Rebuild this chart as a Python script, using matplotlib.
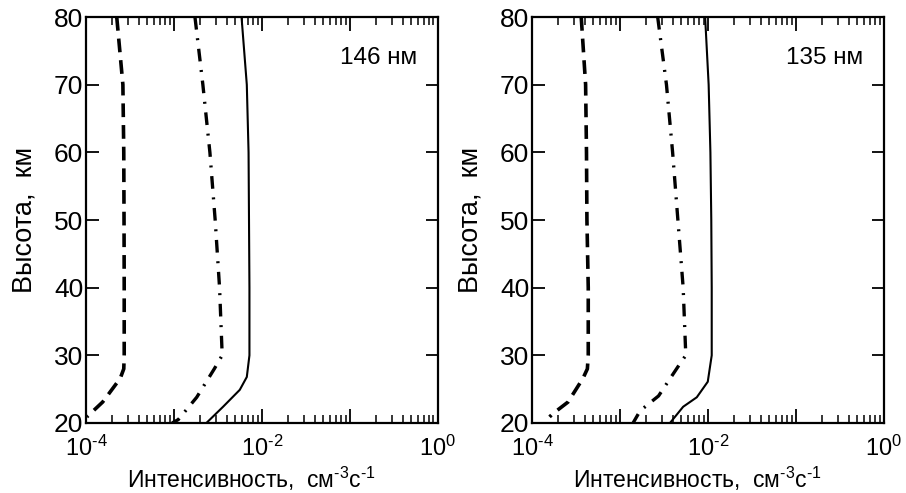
import numpy as np
import matplotlib
matplotlib.use("Agg")
import matplotlib.pyplot as plt
from matplotlib.ticker import LogLocator, FixedLocator, FixedFormatter, NullFormatter

plt.rcParams['font.family'] = ['Liberation Sans', 'DejaVu Sans']
plt.rcParams['mathtext.fontset'] = 'custom'
plt.rcParams['mathtext.rm'] = 'Liberation Sans'
plt.rcParams['mathtext.it'] = 'Liberation Sans'
plt.rcParams['mathtext.bf'] = 'Liberation Sans'

# heights (km) and log10 intensities
h_dash_146 = [80, 70, 60, 50, 40, 30, 28, 26.6, 23.1, 20.9]
lg_dash_146 = [-3.65, -3.58, -3.57, -3.567, -3.565, -3.565, -3.57, -3.61, -3.81, -3.99]
h_dd_146 = [80, 70, 60, 50, 40, 30, 28, 23.8, 20.5, 20]
lg_dd_146 = [-2.76, -2.67, -2.59, -2.53, -2.48, -2.45, -2.54, -2.74, -2.95, -3.02]
h_sol_146 = [80, 70, 60, 50, 40, 30, 26.8, 24.9, 22.4, 20]
lg_sol_146 = [-2.23, -2.17, -2.15, -2.145, -2.14, -2.14, -2.17, -2.25, -2.44, -2.63]

h_dash_135 = [80, 70, 60, 50, 40, 30, 28, 26.6, 23.1, 21.3, 20.9]
lg_dash_135 = [-3.44, -3.39, -3.38, -3.375, -3.36, -3.36, -3.37, -3.42, -3.59, -3.77, -3.80]
h_dd_135 = [80, 70, 60, 50, 40, 30, 28.3, 24, 21.8, 20]
lg_dd_135 = [-2.57, -2.47, -2.40, -2.34, -2.28, -2.25, -2.34, -2.56, -2.77, -2.85]
h_sol_135 = [80, 70, 60, 50, 40, 30, 26.1, 23.8, 22.4, 20]
lg_sol_135 = [-2.03, -1.99, -1.97, -1.96, -1.955, -1.955, -2.0, -2.125, -2.28, -2.43]

panels = [
    ("146 нм", (h_dash_146, lg_dash_146), (h_dd_146, lg_dd_146), (h_sol_146, lg_sol_146)),
    ("135 нм", (h_dash_135, lg_dash_135), (h_dd_135, lg_dd_135), (h_sol_135, lg_sol_135)),
]

xtick_vals = [1e-4, 1e-3, 1e-2, 1e-1, 1e0]
xtick_labels = [r"10$^{\text{-4}}$", "", r"10$^{\text{-2}}$", "", r"10$^{\text{0}}$"]
yticks = [20, 30, 40, 50, 60, 70, 80]

fig = plt.figure(figsize=(9.06, 4.93), dpi=100)
lefts = [0.0949, 0.5872]

for left, (label, dash, dd, sol) in zip(lefts, panels):
    ax = fig.add_axes([left, 0.142, 0.3880, 0.8235])
    ax.plot(10 ** np.array(dash[1]), dash[0], color='black', lw=2.6, linestyle=(0, (3.8, 2.2)))
    ax.plot(10 ** np.array(dd[1]), dd[0], color='black', lw=2.4, linestyle=(0, (3.8, 2.6, 0.6, 2.6)))
    ax.plot(10 ** np.array(sol[1]), sol[0], color='black', lw=1.5)

    ax.set_xscale('log')
    ax.set_xlim(1e-4, 1e0)
    ax.set_ylim(20, 80)
    ax.xaxis.set_major_locator(FixedLocator(xtick_vals))
    ax.xaxis.set_major_formatter(FixedFormatter(xtick_labels))
    ax.xaxis.set_minor_locator(LogLocator(base=10, subs=np.arange(2, 10), numticks=20))
    ax.xaxis.set_minor_formatter(NullFormatter())
    ax.set_yticks(yticks)

    ax.tick_params(axis='x', which='major', direction='in', length=10, width=1.3,
                   top=True, labelsize=17, pad=9)
    ax.tick_params(axis='x', which='minor', direction='in', length=6, width=1.1, top=True)
    ax.tick_params(axis='y', which='major', direction='in', length=9, width=1.3,
                   right=True, labelsize=19, pad=2)
    for s in ax.spines.values():
        s.set_linewidth(1.6)

    ax.set_xlabel(r"Интенсивность,  см$^{\text{-3}}$с$^{\text{-1}}$", fontsize=16.5, labelpad=3)
    ax.xaxis.label.set_x(0.47)
    ax.set_ylabel("Высота,  км", fontsize=19.5, labelpad=12)
    ax.text(0.943, 0.90, label, transform=ax.transAxes, ha='right', va='center', fontsize=17.5)

fig.savefig("out.png", dpi=100)
